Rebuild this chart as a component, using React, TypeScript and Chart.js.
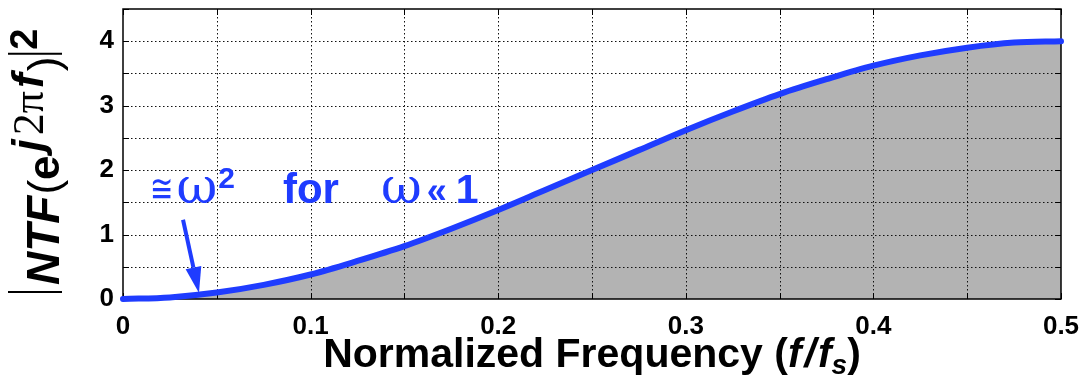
import React, { useEffect, useRef } from 'react';
import { Chart, registerables } from 'chart.js';

Chart.register(...registerables);

// ---- data ----
const FREQ = [0, 0.025, 0.05, 0.075, 0.1, 0.125, 0.15, 0.175, 0.2, 0.225, 0.25, 0.275, 0.3, 0.325, 0.35, 0.375, 0.4, 0.425, 0.45, 0.475, 0.5];
const NTF_SQ = [0, 0.025, 0.1, 0.22, 0.38, 0.59, 0.82, 1.09, 1.38, 1.69, 2.0, 2.31, 2.62, 2.91, 3.18, 3.41, 3.62, 3.78, 3.9, 3.98, 4.0];
const X_TICK_LABELS = ['0', '0.1', '0.2', '0.3', '0.4', '0.5'];
const Y_TICK_LABELS = ['0', '1', '2', '3', '4'];

const BLUE = '#1f3cff';
const GRAY = '#b3b3b3';
const SANS = "'Liberation Sans', Arial, sans-serif";
const SERIF = "'Liberation Serif', 'Times New Roman', serif";
const DSERIF = "'DejaVu Serif', serif";

type Run = { t: string; font: string; dy?: number; gap?: number; bar?: boolean; sy?: number };

function drawRuns(ctx: CanvasRenderingContext2D, runs: Run[], x0: number, y0: number, color: string) {
  let x = x0;
  ctx.fillStyle = color;
  ctx.strokeStyle = color;
  ctx.textBaseline = 'alphabetic';
  ctx.textAlign = 'left';
  for (const r of runs) {
    x += r.gap || 0;
    if (r.bar) {
      ctx.save();
      ctx.lineWidth = 2;
      ctx.beginPath();
      ctx.moveTo(x + 1, y0 + 3);
      ctx.lineTo(x + 1, y0 - 51);
      ctx.stroke();
      ctx.restore();
      x += 2;
      continue;
    }
    ctx.font = r.font;
    if (r.sy) {
      ctx.save();
      ctx.translate(x, y0 + (r.dy || 0));
      ctx.scale(1, r.sy);
      ctx.fillText(r.t, 0, 0);
      ctx.restore();
    } else {
      ctx.fillText(r.t, x, y0 + (r.dy || 0));
    }
    x += ctx.measureText(r.t).width;
  }
  return x;
}

function measureRuns(ctx: CanvasRenderingContext2D, runs: Run[]) {
  let w = 0;
  for (const r of runs) {
    w += r.gap || 0;
    if (r.bar) { w += 2; continue; }
    ctx.font = r.font;
    w += ctx.measureText(r.t).width;
  }
  return w;
}

const decorPlugin = {
  id: 'decor',
  afterDatasetDraw(chart: any, args: any) {
    if (args.index !== 1) return;
    const { ctx, chartArea: a, scales } = chart;
    const xs = scales.x, ys = scales.y;
    ctx.save();
    // dotted grid
    ctx.strokeStyle = '#111';
    ctx.lineWidth = 1;
    ctx.setLineDash([1.5, 2.5]);
    for (const t of xs.ticks) {
      const p = Math.round(xs.getPixelForValue(t.value)) + 0.5;
      if (p <= a.left + 1 || p >= a.right - 1) continue;
      ctx.beginPath(); ctx.moveTo(p, a.top); ctx.lineTo(p, a.bottom); ctx.stroke();
    }
    for (const t of ys.ticks) {
      const p = Math.round(ys.getPixelForValue(t.value)) + 0.5;
      if (p <= a.top + 1 || p >= a.bottom - 1) continue;
      ctx.beginPath(); ctx.moveTo(a.left, p); ctx.lineTo(a.right, p); ctx.stroke();
    }
    ctx.setLineDash([]);
    // inward ticks
    ctx.strokeStyle = '#000';
    const tl = 6;
    for (const t of xs.ticks) {
      const p = Math.round(xs.getPixelForValue(t.value)) + 0.5;
      ctx.beginPath(); ctx.moveTo(p, a.bottom); ctx.lineTo(p, a.bottom - tl); ctx.stroke();
      ctx.beginPath(); ctx.moveTo(p, a.top); ctx.lineTo(p, a.top + tl); ctx.stroke();
    }
    for (const t of ys.ticks) {
      const p = Math.round(ys.getPixelForValue(t.value)) + 0.5;
      ctx.beginPath(); ctx.moveTo(a.left, p); ctx.lineTo(a.left + tl, p); ctx.stroke();
      ctx.beginPath(); ctx.moveTo(a.right, p); ctx.lineTo(a.right - tl, p); ctx.stroke();
    }
    // frame
    ctx.lineWidth = 1.5;
    ctx.strokeRect(a.left, a.top, a.right - a.left, a.bottom - a.top);
    ctx.restore();
  },
  afterDraw(chart: any) {
    const { ctx, chartArea: a, scales } = chart;
    const xs = scales.x, ys = scales.y;
    ctx.save();
    // x-axis title
    const xRuns: Run[] = [
      { t: 'Normalized Frequency (', font: `bold 41px ${SANS}` },
      { t: 'f', font: `italic bold 41px ${SANS}` },
      { t: '/', font: `italic bold 41px ${SANS}`, gap: 3 },
      { t: 'f', font: `italic bold 41px ${SANS}`, gap: 2 },
      { t: 's', font: `italic bold 28px ${SANS}`, dy: 7 },
      { t: ')', font: `bold 41px ${SANS}` },
    ];
    const wx = measureRuns(ctx, xRuns);
    drawRuns(ctx, xRuns, (a.left + a.right) / 2 - wx / 2, 367, '#000');

    // y-axis title (rotated)
    ctx.save();
    ctx.translate(59, 293);
    ctx.rotate(-Math.PI / 2);
    const yRuns: Run[] = [
      { t: '', font: '', bar: true },
      { t: 'NTF', font: `italic bold 46px ${SANS}`, gap: 6 },
      { t: '(', font: `44px ${SANS}`, gap: 1 },
      { t: 'e', font: `bold 44px ${SANS}` },
      { t: 'j', font: `italic bold 44px ${SANS}`, dy: -16, gap: 4 },
      { t: '2π', font: `44px ${SERIF}`, dy: -16, gap: 4 },
      { t: 'f', font: `italic bold 44px ${SANS}`, dy: -16, gap: 3 },
      { t: ')', font: `44px ${SANS}`, gap: 2 },
      { t: '', font: '', bar: true, gap: 2 },
      { t: '2', font: `bold 38px ${SANS}`, dy: -22, gap: 3 },
    ];
    drawRuns(ctx, yRuns, 0, 0, '#000');
    ctx.restore();

    // annotation text
    const tx = xs.getPixelForValue(0.0144);
    const ty = ys.getPixelForValue(1.495);
    const aRuns: Run[] = [
      { t: '≅', font: `28px 'DejaVu Sans', sans-serif`, dy: -1, sy: 1.4 },
      { t: 'ω', font: `50px ${DSERIF}`, gap: 3 },
      { t: '2', font: `bold 30px ${SANS}`, dy: -15, gap: 1 },
      { t: 'for', font: `bold 42px ${SANS}`, gap: 48 },
      { t: 'ω', font: `50px ${DSERIF}`, gap: 42 },
      { t: '«', font: `bold 36px ${SANS}`, gap: 5 },
      { t: '1', font: `bold 41px ${SANS}`, gap: 9 },
    ];
    drawRuns(ctx, aRuns, tx, ty, BLUE);

    // arrow
    const x1 = xs.getPixelForValue(0.032), y1 = ys.getPixelForValue(1.23);
    const x2 = xs.getPixelForValue(0.0405), y2 = ys.getPixelForValue(0.093);
    const ang = Math.atan2(y2 - y1, x2 - x1);
    const hl = 26, hw = 8;
    const bx = x2 - hl * Math.cos(ang), by = y2 - hl * Math.sin(ang);
    ctx.strokeStyle = BLUE;
    ctx.fillStyle = BLUE;
    ctx.lineWidth = 4;
    ctx.beginPath(); ctx.moveTo(x1, y1); ctx.lineTo(bx, by); ctx.stroke();
    ctx.beginPath();
    ctx.moveTo(x2, y2);
    ctx.lineTo(bx + hw * Math.sin(ang), by - hw * Math.cos(ang));
    ctx.lineTo(bx - hw * Math.sin(ang), by + hw * Math.cos(ang));
    ctx.closePath();
    ctx.fill();
    ctx.restore();
  },
};

export default function App() {
  const ref = useRef<HTMLCanvasElement | null>(null);
  useEffect(() => {
    if (!ref.current) return;
    const pts = FREQ.map((f, i) => ({ x: f, y: NTF_SQ[i] }));
    const tickFont = { family: SANS, weight: 'bold' as const, size: 26 };
    const chart = new Chart(ref.current, {
      type: 'line',
      data: {
        datasets: [
          {
            data: pts,
            borderColor: BLUE,
            borderWidth: 6,
            borderCapStyle: 'round',
            pointRadius: 0,
            fill: false,
            cubicInterpolationMode: 'monotone',
            clip: false as any,
          },
          {
            data: pts,
            borderWidth: 0,
            borderColor: 'rgba(0,0,0,0)',
            backgroundColor: GRAY,
            pointRadius: 0,
            fill: 'origin',
            cubicInterpolationMode: 'monotone',
          },
        ],
      },
      options: {
        responsive: false,
        animation: false,
        layout: { padding: { top: 9, right: 25, left: 0, bottom: 0 } },
        plugins: { legend: { display: false }, tooltip: { enabled: false } },
        scales: {
          x: {
            type: 'linear',
            min: 0,
            max: 0.5,
            grid: { display: false, drawTicks: false },
            border: { display: false },
            ticks: {
              stepSize: 0.05,
              autoSkip: false,
              maxRotation: 0,
              color: '#000',
              font: tickFont,
              padding: 12,
              callback: (v: any) => {
                const k = Math.round(Number(v) * 10);
                return Math.abs(Number(v) * 10 - k) < 1e-6 ? X_TICK_LABELS[k] : '';
              },
            },
            afterFit: (s: any) => { s.height = 80; s.paddingLeft = 0; s.paddingRight = 0; },
          },
          y: {
            min: 0,
            max: 4.5,
            grid: { display: false, drawTicks: false },
            border: { display: false },
            ticks: {
              stepSize: 0.5,
              autoSkip: false,
              color: '#000',
              font: tickFont,
              padding: 9,
              callback: (v: any) => {
                const k = Math.round(Number(v));
                return Math.abs(Number(v) - k) < 1e-6 ? Y_TICK_LABELS[k] : '';
              },
            },
            afterFit: (s: any) => { s.width = 123; s.paddingTop = 0; s.paddingBottom = 0; },
          },
        },
      },
      plugins: [decorPlugin],
    } as any);
    return () => chart.destroy();
  }, []);
  return (
    <div style={{ position: 'absolute', left: 0, top: 0, width: 1086, height: 379, background: '#fff' }}>
      <canvas ref={ref} width={1086} height={379} style={{ display: 'block' }} />
    </div>
  );
}
